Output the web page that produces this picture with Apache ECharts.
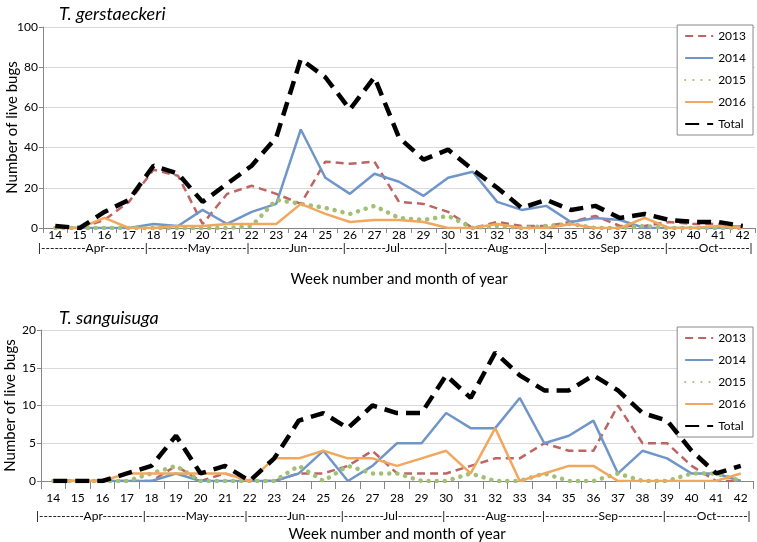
<!DOCTYPE html>
<html>
<head>
<meta charset="utf-8">
<script src="https://cdn.jsdelivr.net/npm/echarts@6/dist/echarts.min.js"></script>
<style>html,body{margin:0;padding:0;background:#fff;}#c{width:757px;height:542px;}</style>
</head>
<body>
<div id="c"></div>
<script>
const weeks = ['14','15','16','17','18','19','20','21','22','23','24','25','26','27','28','29','30','31','32','33','34','35','36','37','38','39','40','41','42'];
const seriesNames = ['2013','2014','2015','2016','Total'];
const monthRow = '|----------Apr---------|---------May--------|---------Jun--------|---------Jul----------|---------Aug--------|------------Sep----------|-------Oct-------|';
const xTitle = 'Week number and month of year';
const yTitle = 'Number of live bugs';
const title1 = 'T. gerstaeckeri';
const title2 = 'T. sanguisuga';

// T. gerstaeckeri
const g2013 = [0,0,4,13,29,26,2,17,21,17,12,33,32,33,13,12,8,0,3,1,1,3,6,1,1,3,2,2,0];
const g2014 = [0,0,0,0,2,1,9,2,8,12,49,25,17,27,23,16,25,28,13,9,11,3,5,4,0,0,0,0,1];
const g2015 = [0,0,0,0,0,0,0,0,1,14,12,10,7,11,5,4,6,0,1,0,1,2,0,0,1,0,0,0,0];
const g2016 = [0,0,5,0,0,1,1,2,2,2,12,7,3,4,4,3,0,0,2,0,0,2,0,0,5,0,0,1,0];
const gTotal = [1,0,8,14,31,27,13,22,31,45,84,75,59,75,45,34,39,29,20,10,14,9,11,5,7,4,3,3,1];

// T. sanguisuga
const s2013 = [0,0,0,0,0,2,0,1,0,0,1,1,2,4,1,1,1,2,3,3,5,4,4,10,5,5,2,0,0];
const s2014 = [0,0,0,0,0,1,0,0,0,0,1,4,0,2,5,5,9,7,7,11,5,6,8,1,4,3,1,1,0];
const s2015 = [0,0,0,0,1,2,0,0,0,0,2,0,2,1,1,0,0,1,0,0,1,0,0,1,0,0,1,1,0];
const s2016 = [0,0,0,1,1,1,1,1,0,3,3,4,3,3,2,3,4,1,7,0,1,2,2,0,0,0,0,0,1];
const sTotal = [0,0,0,1,2,6,1,2,0,3,8,9,7,10,9,9,14,11,17,14,12,12,14,12,9,8,4,1,2];

const FONT = 'Lato, "Open Sans", sans-serif';
const colors = {'2013':'#BC6562','2014':'#7096C9','2015':'#A2C074','2016':'#F1A75E','Total':'#000000'};
const styles = {
  '2013': {width:2.5, type:[8,5]},
  '2014': {width:2.5, type:'solid'},
  '2015': {width:4.5, type:[0.1,8], cap:'round'},
  '2016': {width:2.5, type:'solid'},
  'Total': {width:4.5, type:[14,8]}
};

function makeSeries(name, data, idx) {
  const st = styles[name];
  return {
    name: name, type: 'line', data: data, xAxisIndex: idx, yAxisIndex: idx,
    symbol: 'none', silent: true, animation: false,
    z: name === 'Total' ? 5 : 3,
    lineStyle: {color: colors[name], width: st.width, type: st.type, cap: st.cap || 'butt'},
    itemStyle: {color: colors[name]}
  };
}

const topData = [g2013, g2014, g2015, g2016, gTotal];
const botData = [s2013, s2014, s2015, s2016, sTotal];
const series = [];
seriesNames.forEach((n,i)=>series.push(makeSeries(n, topData[i], 0)));
seriesNames.forEach((n,i)=>series.push(makeSeries(n, botData[i], 1)));

function xAxis(idx, gap, margin, tickLen) {
  return {
    type: 'category', gridIndex: idx, data: weeks, boundaryGap: true,
    axisLine: {lineStyle: {color: '#868686', width: 1}},
    axisTick: {show: true, length: tickLen, lineStyle: {color: '#868686'}},
    axisLabel: {color: '#000', fontSize: 12, fontFamily: FONT, margin: margin, interval: 0},
    name: xTitle, nameLocation: 'middle', nameGap: gap, nameMoveOverlap: false,
    nameTextStyle: {color: '#000', fontSize: 15, fontFamily: FONT}
  };
}
function yAxis(idx, max, interval) {
  return {
    type: 'value', gridIndex: idx, min: 0, max: max, interval: interval,
    axisLine: {show: true, lineStyle: {color: '#868686', width: 1}},
    axisTick: {show: true, length: 4, lineStyle: {color: '#868686'}},
    splitLine: {lineStyle: {color: '#D9D9D9', width: 1}},
    axisLabel: {color: '#000', fontSize: 12, fontFamily: FONT, margin: 5},
    name: yTitle, nameLocation: 'middle', nameGap: 23, nameRotate: 90, nameMoveOverlap: false,
    nameTextStyle: {color: '#000', fontSize: 15, fontFamily: FONT}
  };
}
function legend(top) {
  return {
    orient: 'vertical', right: 4, top: top, data: seriesNames,
    itemWidth: 28, itemHeight: 12, itemGap: 10,
    borderColor: '#888', borderWidth: 1, padding: [5, 7, 5, 7],
    backgroundColor: '#fff', selectedMode: false,
    itemStyle: {color: 'rgba(0,0,0,0)', borderColor: 'rgba(0,0,0,0)', borderWidth: 0, opacity: 0},
    textStyle: {color: '#000', fontSize: 12, fontFamily: FONT, width: 24, align: 'right'}
  };
}

const chart = echarts.init(document.getElementById('c'), null, {renderer: 'canvas'});
chart.setOption({
  animation: false,
  backgroundColor: '#fff',
  title: [
    {text: title1, left: 54, top: 0, textStyle: {fontSize: 18, fontStyle: 'italic', fontWeight: 'normal', color: '#000', fontFamily: FONT}},
    {text: title2, left: 54, top: 304, textStyle: {fontSize: 18, fontStyle: 'italic', fontWeight: 'normal', color: '#000', fontFamily: FONT}},
    {text: monthRow, left: 38, top: 242, padding: 0, textStyle: {fontSize: 12, fontWeight: 'normal', color: '#000', fontFamily: FONT}},
    {text: monthRow, left: 36, top: 510, padding: 0, textStyle: {fontSize: 12, fontWeight: 'normal', color: '#000', fontFamily: FONT}}
  ],
  grid: [
    {left: 43, right: 2, top: 27, height: 201, outerBoundsMode: 'none', containLabel: false},
    {left: 41, right: 4, top: 330, height: 151, outerBoundsMode: 'none', containLabel: false}
  ],
  xAxis: [xAxis(0, 44, 1, 5), xAxis(1, 46, 11, 8)],
  yAxis: [yAxis(0, 100, 20), yAxis(1, 20, 5)],
  legend: [legend(25), legend(327)],
  series: series
});
</script>
</body>
</html>
